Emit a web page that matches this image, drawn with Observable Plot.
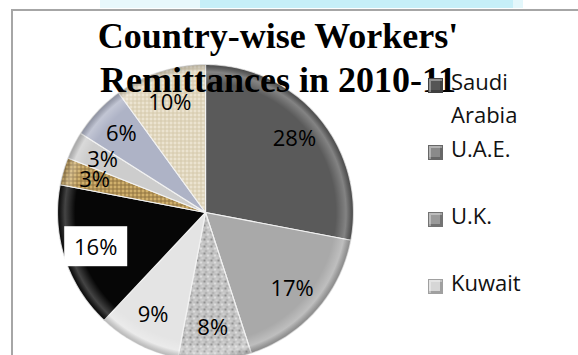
<!DOCTYPE html>
<html><head><meta charset="utf-8">
<script src="https://cdn.jsdelivr.net/npm/d3@7"></script>
<script src="https://cdn.jsdelivr.net/npm/@observablehq/plot@0.6"></script>
<style>
body{margin:0;background:#fff;}
#wrap{position:relative;width:578px;height:355px;overflow:hidden;background:#fff;}
.strip1{position:absolute;left:100px;top:0;width:100px;height:8px;background:#e8f8fc;}
.strip2{position:absolute;left:200px;top:0;width:313px;height:8px;background:#c6eff8;}
.strip3{position:absolute;left:513px;top:0;width:10px;height:8px;background:#e3f7fb;}
.frame{position:absolute;left:11px;top:9px;width:640px;height:420px;border:2px solid #a6a6a6;box-sizing:border-box;}
#chart{position:absolute;left:0;top:0;}
.title{position:absolute;left:78px;top:14px;width:400px;text-align:center;font-family:"Liberation Serif","Times New Roman",serif;font-weight:bold;font-size:36px;line-height:44px;color:#000;white-space:nowrap;z-index:2;}
#legend{position:absolute;left:428px;top:65px;z-index:3;font-family:"Open Sans",sans-serif;font-size:22px;line-height:33px;color:#111;}
.item{position:relative;height:67px;width:140px;}
.mk{position:absolute;left:0;top:13px;width:15px;height:15px;box-sizing:border-box;border:1px solid rgba(0,0,0,.25);box-shadow:inset 2px 2px 0 rgba(255,255,255,.35), inset -2px -2px 0 rgba(0,0,0,.25);}
.lt{position:absolute;left:23px;top:0;width:80px;}
</style></head><body>
<div id="wrap">
  <div class="strip1"></div><div class="strip2"></div><div class="strip3"></div>
  <div class="frame"></div>
  <div id="chart"></div>
  <div class="title">Country-wise Workers'<br>Remittances in 2010-11</div>
  <div id="legend"></div>
</div>
<script>
// Data
const countries = ["Saudi Arabia", "U.A.E.", "U.K.", "Kuwait", "U.S.A.", "Oman", "Qatar", "Singapore", "Others"];
const shares = [28, 17, 8, 9, 16, 3, 3, 6, 10];
const labels = ["28%", "17%", "8%", "9%", "16%", "3%", "3%", "6%", "10%"];
const legendCount = 4;
// Styles
const fills = ["#5a5a5a", "#a9a9a9", "url(#granite)", "#e4e4e4", "#060606", "url(#gold)", "#cdcdcd", "#aeb3c6", "url(#burlap)"];
const markerColors = ["#555555", "#8a8a8a", "#9a9a9a", "#d6d6d6"];

const cx = 205, cy = 212, R = 148;

const arcs = d3.pie().sort(null).value(d => d)(shares);
const slicePts = [];
arcs.forEach((a, i) => {
  const name = countries[i];
  slicePts.push({name, x: 0, y: 0});
  const n = Math.max(2, Math.ceil((a.endAngle - a.startAngle) / (Math.PI / 180)));
  for (let k = 0; k <= n; k++) {
    const t = a.startAngle + (a.endAngle - a.startAngle) * k / n;
    slicePts.push({name, x: Math.sin(t), y: Math.cos(t)});
  }
});
const labelPts = arcs.map((a, i) => {
  const m = (a.startAngle + a.endAngle) / 2;
  return {name: countries[i], label: labels[i], x: 0.78 * Math.sin(m), y: 0.78 * Math.cos(m)};
});

const chart = Plot.plot({
  width: 578, height: 355, margin: 0,
  x: {domain: [-1, 1], range: [cx - R, cx + R], axis: null},
  y: {domain: [-1, 1], range: [cy + R, cy - R], axis: null},
  color: {type: "ordinal", domain: countries, range: fills},
  style: {background: "transparent", fontFamily: "Open Sans, sans-serif", overflow: "hidden"},
  marks: [
    Plot.line(slicePts, {x: "x", y: "y", z: "name", fill: "name", stroke: "#f2f2f2", strokeWidth: 1.2, curve: "linear-closed"}),
    Plot.line(slicePts, {x: "x", y: "y", z: "name", fill: "url(#rim)", stroke: "none", curve: "linear-closed"}),
    Plot.text(labelPts, {x: "x", y: "y", text: "label", fontSize: 22, fill: "#000"})
  ]
});

const ns = "http://www.w3.org/2000/svg";
const defs = document.createElementNS(ns, "defs");
defs.innerHTML = `
<pattern id="granite" patternUnits="userSpaceOnUse" width="7" height="7">
  <rect width="7" height="7" fill="#c4c4c4"/>
  <circle cx="1" cy="1" r="1" fill="#7e7e7e"/>
  <circle cx="4.5" cy="3" r="0.9" fill="#eeeeee"/>
  <circle cx="2.5" cy="5.5" r="0.8" fill="#959595"/>
  <circle cx="6" cy="6" r="0.7" fill="#e2e2e2"/>
  <circle cx="5.8" cy="0.8" r="0.6" fill="#a5a5a5"/>
</pattern>
<pattern id="gold" patternUnits="userSpaceOnUse" width="4" height="4">
  <rect width="4" height="4" fill="#d0b06c"/>
  <path d="M0 0.5H4M0.5 0V4" stroke="#8f7240" stroke-width="1"/>
</pattern>
<pattern id="burlap" patternUnits="userSpaceOnUse" width="4" height="4">
  <rect width="4" height="4" fill="#ebe3d0"/>
  <path d="M0 0.5H4M0.5 0V4" stroke="#d4c8aa" stroke-width="1"/>
</pattern>
<radialGradient id="rim" gradientUnits="userSpaceOnUse" cx="${cx}" cy="${cy}" r="${R}">
  <stop offset="0" stop-color="#fff" stop-opacity="0"/>
  <stop offset="0.88" stop-color="#fff" stop-opacity="0"/>
  <stop offset="0.95" stop-color="#fff" stop-opacity="0.25"/>
  <stop offset="1" stop-color="#000" stop-opacity="0.2"/>
</radialGradient>`;
chart.insertBefore(defs, chart.firstChild);
document.getElementById("chart").appendChild(chart);

// white box behind the 16% label
chart.querySelectorAll("text").forEach(t => {
  if (t.textContent === labels[4]) {
    const b = t.getBBox();
    const r = document.createElementNS(ns, "rect");
    const w = 63, h = 40;
    r.setAttribute("x", b.x + b.width / 2 - w / 2);
    r.setAttribute("y", b.y + b.height / 2 - h / 2);
    r.setAttribute("width", w);
    r.setAttribute("height", h);
    r.setAttribute("fill", "#fff");
    const tr = t.getAttribute("transform");
    if (tr) r.setAttribute("transform", tr);
    t.parentNode.insertBefore(r, t);
  }
});

// legend
const lg = document.getElementById("legend");
countries.slice(0, legendCount).forEach((c, i) => {
  const it = document.createElement("div");
  it.className = "item";
  it.innerHTML = `<div class="mk" style="background:${markerColors[i]}"></div><div class="lt">${c}</div>`;
  lg.appendChild(it);
});
</script>
</body></html>
